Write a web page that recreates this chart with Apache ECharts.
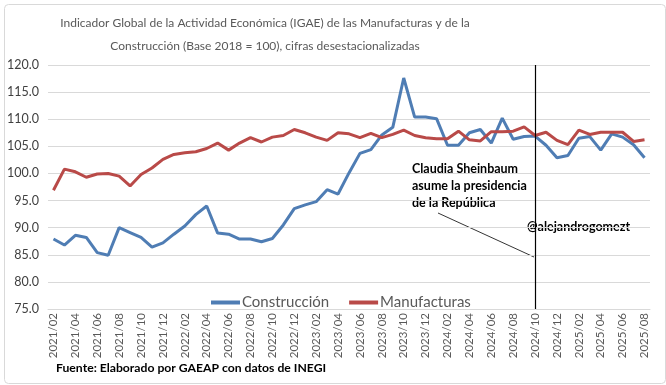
<!DOCTYPE html>
<html><head><meta charset="utf-8">
<script src="https://cdn.jsdelivr.net/npm/echarts@6/dist/echarts.min.js"></script>
<style>html,body{margin:0;padding:0;background:#fff}#c{width:666px;height:385px}</style>
</head><body><div id="c"></div>
<script>
const months = [];
(function(){ for (let y=2021;y<=2025;y++){ for(let m=1;m<=12;m++){ if(y===2021&&m<2) continue; if(y===2025&&m>8) continue; months.push(y+'/'+String(m).padStart(2,'0')); } } })();
const construccion = [87.9,86.8,88.6,88.2,85.4,84.9,90.0,89.1,88.2,86.4,87.2,88.8,90.3,92.4,94.0,89.0,88.8,87.9,87.9,87.4,88.0,90.5,93.5,94.2,94.8,97.0,96.2,100.1,103.7,104.4,107.1,108.5,117.6,110.4,110.4,110.1,105.2,105.2,107.5,108.1,105.6,110.2,106.3,106.8,106.9,105.2,102.9,103.3,106.5,106.8,104.3,107.3,106.7,105.3,102.9];
const manufacturas = [96.9,100.8,100.3,99.3,99.9,100.0,99.5,97.7,99.8,101.0,102.6,103.5,103.8,104.0,104.6,105.6,104.3,105.6,106.6,105.8,106.7,107.0,108.1,107.5,106.7,106.1,107.5,107.3,106.6,107.4,106.6,107.2,108.0,107.0,106.6,106.4,106.4,107.8,106.2,106.0,107.7,107.7,107.8,108.6,107.0,107.6,106.1,105.3,108.0,107.2,107.6,107.6,107.6,105.9,106.2];
const eventMonth = '2024/10';
const FONT = 'Lato, "Liberation Sans", sans-serif';
const chart = echarts.init(document.getElementById('c'), null, {renderer:'canvas'});
chart.setOption({
  animation:false,
  textStyle:{fontFamily:FONT},
  title:{text:'Indicador Global de la Actividad Económica (IGAE) de las Manufacturas y de la\nConstrucción (Base 2018 = 100), cifras desestacionalizadas',
    left:260, top:7, textAlign:'center',
    textStyle:{fontFamily:FONT,fontSize:12,fontWeight:'normal',color:'#595959',lineHeight:23}},
  legend:{left:206, top:290, itemWidth:29, itemHeight:4, itemGap:20, icon:'rect',
    textStyle:{fontFamily:FONT,fontSize:15,color:'#595959',padding:[0,0,0,-3]},
    data:['Construcción','Manufacturas']},
  grid:{left:48,right:16,top:65,bottom:76},
  xAxis:{type:'category',data:months,boundaryGap:true,
    axisLine:{lineStyle:{color:'#d9d9d9'}},axisTick:{show:false},
    axisLabel:{interval:1,rotate:90,fontFamily:FONT,fontSize:11.5,color:'#595959',margin:4}},
  yAxis:{type:'value',min:75,max:120,interval:5,
    axisLabel:{formatter:v=>v.toFixed(1),fontFamily:FONT,fontSize:12.5,color:'#404040',margin:9},
    splitLine:{lineStyle:{color:'#d9d9d9',width:1}},axisLine:{show:false},axisTick:{show:false}},
  series:[
    {name:'Construcción',type:'line',data:construccion,symbol:'none',lineStyle:{width:3,color:'#4f7db4'},itemStyle:{color:'#4f7db4'},
     markLine:{silent:true,symbol:'none',label:{show:false},lineStyle:{color:'#000',width:1.2,type:'solid'},data:[{xAxis:eventMonth}]}},
    {name:'Manufacturas',type:'line',data:manufacturas,symbol:'none',lineStyle:{width:3,color:'#b94a48'},itemStyle:{color:'#b94a48'}}
  ],
  graphic:[
    {type:'rect',left:2,top:2,shape:{width:661,height:379,r:4},style:{fill:'none',stroke:'#d9d9d9',lineWidth:1},silent:true},
    {type:'text',left:412,top:161,style:{text:'Claudia Sheinbaum\nasume la presidencia\nde la República',font:'bold 12.5px '+FONT,fill:'#000',lineHeight:16.7}},
    {type:'line',shape:{x1:438,y1:213,x2:534,y2:257},style:{stroke:'#000',lineWidth:0.8}},
    {type:'text',left:527,top:220,style:{text:'@alejandrogomezt',font:'bold 12.5px '+FONT,fill:'#000'}},
    {type:'text',left:56,top:362,style:{text:'Fuente: Elaborado por GAEAP con datos de INEGI',font:'bold 12.2px '+FONT,fill:'#000'}}
  ]
});
</script></body></html>
